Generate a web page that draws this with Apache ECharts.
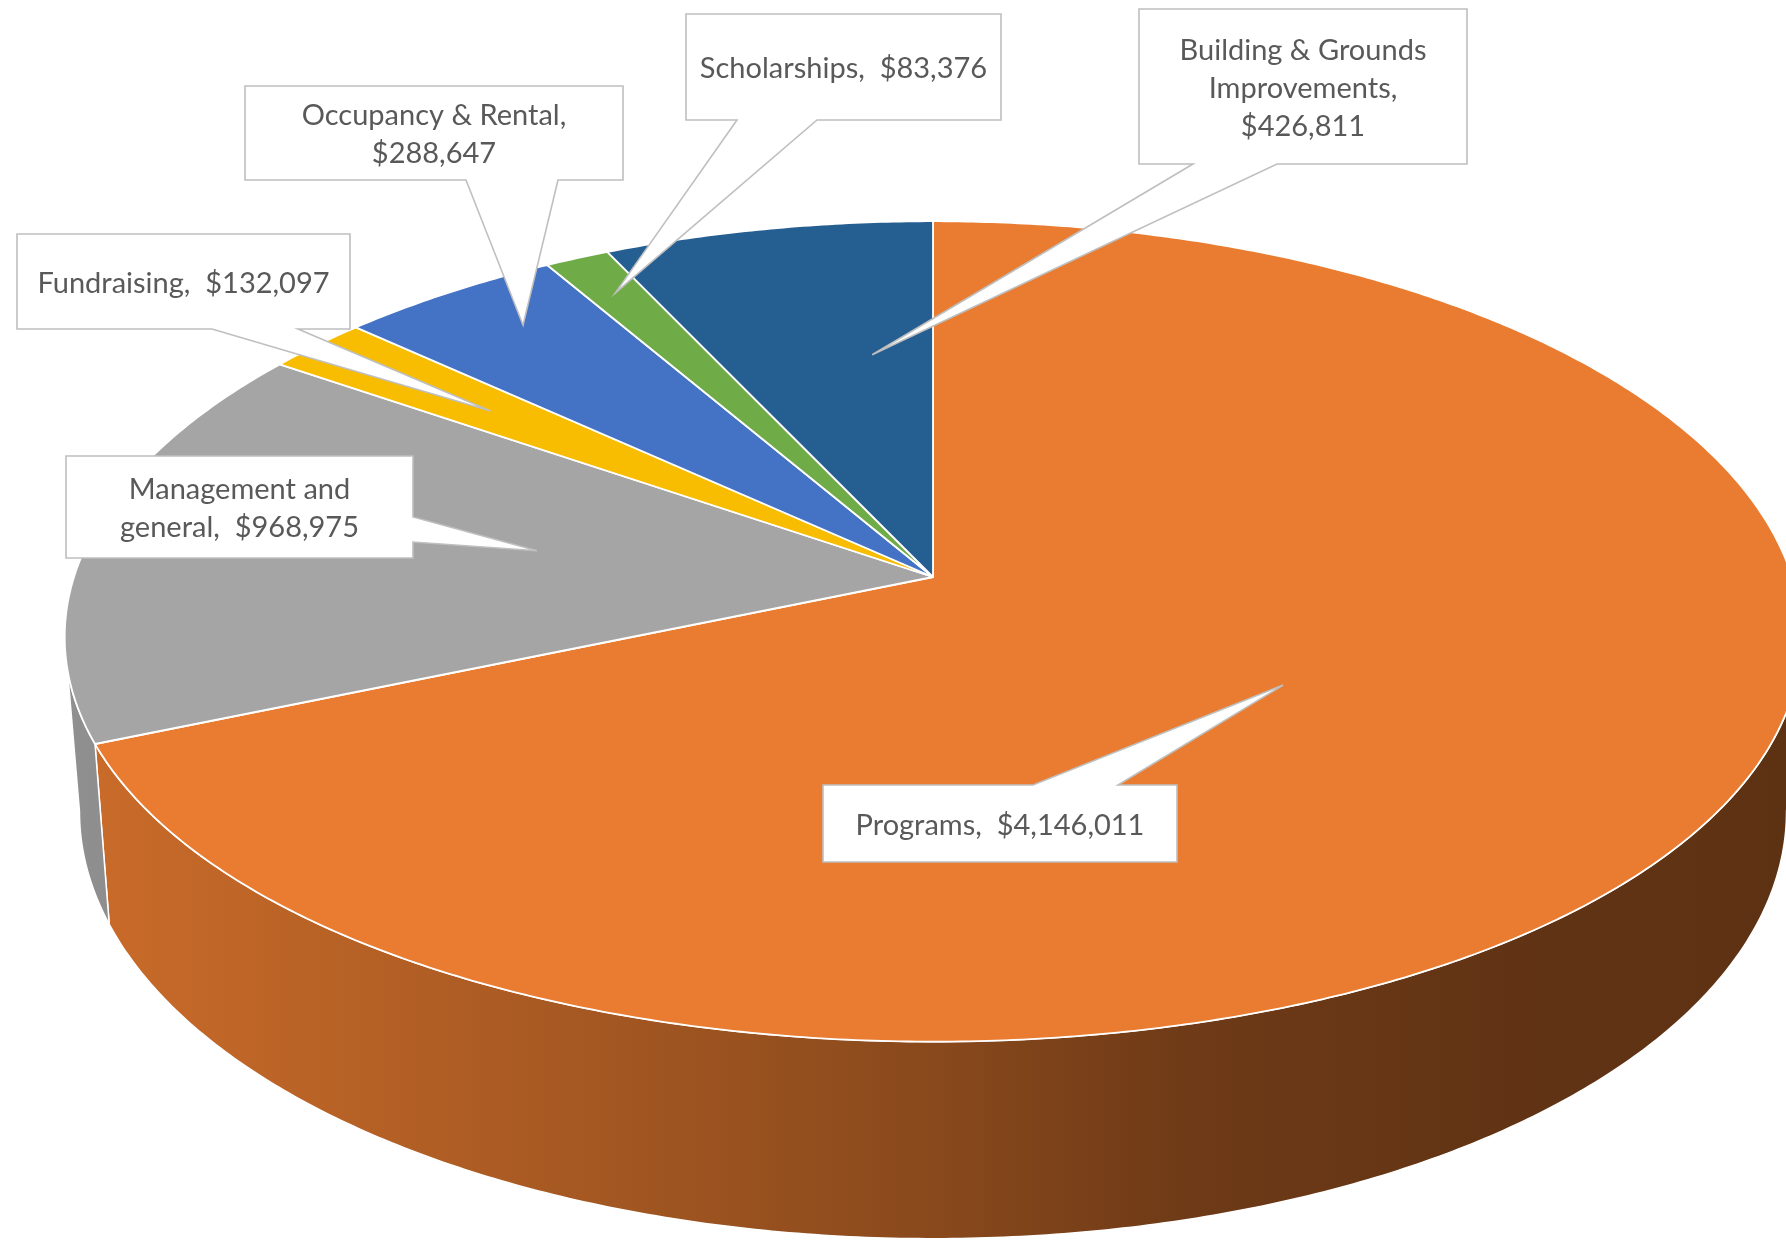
<!DOCTYPE html>
<html><head><meta charset="utf-8">
<script src="https://cdn.jsdelivr.net/npm/echarts@6/dist/echarts.min.js"></script>
<style>html,body{margin:0;padding:0;background:#fff}#c{width:1786px;height:1241px}</style>
</head><body><div id="c"></div>
<script>
// ---- data ----
const categories = ['Programs', 'Management and general', 'Fundraising', 'Occupancy & Rental', 'Scholarships', 'Building & Grounds Improvements'];
const values = [4146011, 968975, 132097, 288647, 83376, 426811];
const colors = ['#E97C30', '#A5A5A5', '#F8BC00', '#4472C4', '#6FAB46', '#255E91'];

// ---- layout (3D projection + callout boxes) ----
const PIE = {cx: 933, cy: 577, ax: 859, ex: 0.1459, by: 403, ey: 0.1327, depth: 171, sx: 0.983, sy: 1.056, visFrom: 98.4, visTo: 261.6};
const callouts = [
  {box: [823, 785, 1177, 862], edge: 'top', base: [1033, 1118], r: 0.47, t: 0.5, breaks: []},
  {box: [66, 456, 413, 558], edge: 'right', base: [517, 542], r: 0.47, t: 0.54, breaks: [2]},
  {box: [17, 234, 350, 329], edge: 'bottom', base: [212, 298], r: 0.70, t: 0.5, breaks: []},
  {box: [245, 86, 623, 180], edge: 'bottom', base: [466, 558], r: 0.86, t: 0.58, breaks: [3]},
  {box: [686, 14, 1001, 120], edge: 'bottom', base: [737, 817], r: 0.88, t: 0.5, breaks: []},
  {box: [1139, 9, 1467, 164], edge: 'bottom', base: [1193, 1277], r: 0.60, t: 0.71, breaks: [3, 4]}
];
const sideShade = [[0, 0.87], [0.3, 0.71], [0.5, 0.59], [0.65, 0.47], [0.85, 0.41], [1, 0.40]];

const total = values.reduce((a, b) => a + b, 0);
function angles(i) {
  let s = 0;
  for (let k = 0; k < i; k++) s += values[k];
  return [s / total * 360, (s + values[i]) / total * 360];
}
function topPt(theta, r) {
  const t = theta * Math.PI / 180, X = r * Math.sin(t), Z = r * Math.cos(t);
  return [PIE.cx + PIE.ax * X / (1 + PIE.ex * Z), PIE.cy - PIE.by * Z / (1 + PIE.ey * Z)];
}
function botPt(theta) {
  const p = topPt(theta, 1);
  return [PIE.cx + PIE.sx * (p[0] - PIE.cx), PIE.cy + PIE.depth + PIE.sy * (p[1] - PIE.cy)];
}
function arc(a1, a2, fn) {
  const n = Math.max(2, Math.ceil(Math.abs(a2 - a1) / 0.5));
  const pts = [];
  for (let k = 0; k <= n; k++) pts.push(fn(a1 + (a2 - a1) * k / n));
  return pts;
}
function shade(hex, f) {
  const n = parseInt(hex.slice(1), 16);
  const r = Math.round(((n >> 16) & 255) * f), g = Math.round(((n >> 8) & 255) * f), b = Math.round((n & 255) * f);
  return 'rgb(' + r + ',' + g + ',' + b + ')';
}
function labelText(i) {
  const words = (categories[i] + ',').split(' ').concat(['$' + values[i].toLocaleString('en-US')]);
  const br = callouts[i].breaks;
  const lines = []; let cur = [];
  words.forEach((w, k) => { cur.push(w); if (br.includes(k + 1)) { lines.push(cur); cur = []; } });
  if (cur.length) lines.push(cur);
  return lines.map(l => l.join(' ').replace(', $', () => ',  $')).join('\n');
}

const seriesData = values.map((v, i) => ({name: categories[i], value: [v, i]}));

const chart = echarts.init(document.getElementById('c'), null, {renderer: 'canvas'});
chart.setOption({
  backgroundColor: '#ffffff',
  animation: false,
  series: [
    { // side walls
      type: 'custom', coordinateSystem: 'none', silent: true, z: 1,
      data: seriesData,
      renderItem: function (params, api) {
        const i = api.value(1);
        const [a1, a2] = angles(i);
        const s = Math.max(a1, PIE.visFrom), e = Math.min(a2, PIE.visTo);
        if (e <= s) return null;
        const pts = arc(s, e, a => topPt(a, 1)).concat(arc(e, s, botPt));
        const grad = new echarts.graphic.LinearGradient(PIE.cx - PIE.ax * 1.011, 0, PIE.cx + PIE.ax * 1.011, 0,
          sideShade.map(st => ({offset: st[0], color: shade(colors[i], st[1])})), true);
        return {type: 'polygon', shape: {points: pts}, style: {fill: grad, stroke: '#ffffff', lineWidth: 1.5, lineJoin: 'round'}};
      }
    },
    { // top faces
      type: 'custom', coordinateSystem: 'none', silent: true, z: 2,
      data: seriesData,
      renderItem: function (params, api) {
        const i = api.value(1);
        const [a1, a2] = angles(i);
        const pts = [[PIE.cx, PIE.cy]].concat(arc(a1, a2, a => topPt(a, 1)));
        return {type: 'polygon', shape: {points: pts}, style: {fill: colors[i], stroke: '#ffffff', lineWidth: 1.8, lineJoin: 'round'}};
      }
    },
    { // callout data labels
      type: 'custom', coordinateSystem: 'none', silent: true, z: 3,
      data: seriesData,
      renderItem: function (params, api) {
        const i = api.value(1);
        const c = callouts[i];
        const [a1, a2] = angles(i);
        const tip = topPt(a1 + (a2 - a1) * c.t, c.r);
        const [x0, y0, x1, y1] = c.box;
        const [b0, b1] = c.base;
        let pts;
        if (c.edge === 'top') pts = [[x0, y0], [b0, y0], tip, [b1, y0], [x1, y0], [x1, y1], [x0, y1]];
        else if (c.edge === 'right') pts = [[x0, y0], [x1, y0], [x1, b0], tip, [x1, b1], [x1, y1], [x0, y1]];
        else if (c.edge === 'bottom') pts = [[x0, y0], [x1, y0], [x1, y1], [b1, y1], tip, [b0, y1], [x0, y1]];
        else pts = [[x0, y0], [x1, y0], [x1, y1], [x0, y1], [x0, b1], tip, [x0, b0]];
        return {
          type: 'group',
          children: [
            {type: 'polygon', shape: {points: pts}, style: {fill: '#ffffff', stroke: '#BFBFBF', lineWidth: 1.6, lineJoin: 'miter'}},
            {type: 'text', style: {x: (x0 + x1) / 2, y: (y0 + y1) / 2 + 2, text: labelText(i), align: 'center', verticalAlign: 'middle',
              fontFamily: 'Lato', fontSize: 29, lineHeight: 38, fill: '#595959'}}
          ]
        };
      }
    }
  ]
});
</script>
</body></html>
